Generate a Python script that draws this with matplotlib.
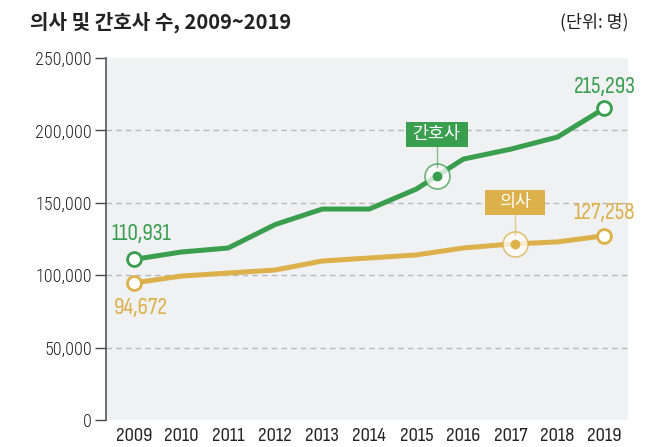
import matplotlib
matplotlib.use("Agg")
import matplotlib.pyplot as plt
from matplotlib.patches import Rectangle
from matplotlib.transforms import IdentityTransform

years = [2009, 2010, 2011, 2012, 2013, 2014, 2015, 2016, 2017, 2018, 2019]
nurses = [110931, 116000, 118800, 135000, 145700, 145700, 159500, 180200, 187000, 195400, 215293]
doctors = [94672, 99400, 101500, 103600, 109800, 111900, 114000, 118800, 121500, 123000, 127258]
yticks = [0, 50000, 100000, 150000, 200000, 250000]
title = "의사 및 간호사 수, 2009~2019"
unit = "(단위: 명)"
nurse_label = "간호사"
doctor_label = "의사"

NUM = "Sofia Sans Condensed"
YT = "Roboto Condensed"
kr = ["Noto Sans CJK KR", "DejaVu Sans"]

GREEN = "#3a9e4f"
YELLOW = "#dcb04a"
BG = "#f0f1f3"
DPI = 100

fig = plt.figure(figsize=(6.68, 4.47), dpi=DPI)
ax = fig.add_axes([106/668, 27/447, 522/668, 362/447])
ax.set_facecolor(BG)
ax.set_xlim(2008.4, 2019.5)
ax.set_ylim(0, 250000)

for y in yticks[1:-1]:
    ax.axhline(y, color="#b9b9b9", lw=1, ls=(0, (4, 3)), zorder=1)

ax.plot(years, nurses, color=GREEN, lw=3.6, zorder=3, solid_capstyle="round", solid_joinstyle="round")
ax.plot(years, doctors, color=YELLOW, lw=3.6, zorder=3, solid_capstyle="round", solid_joinstyle="round")
for ser, c in ((nurses, GREEN), (doctors, YELLOW)):
    ax.plot([years[0], years[-1]], [ser[0], ser[-1]], ls="none", marker="o", ms=10,
            mfc="white", mec=c, mew=2, zorder=4)

lab = dict(fontsize=17, family=NUM, fontweight="medium", ha="center")
ax.annotate(f"{nurses[0]:,}", (years[0], nurses[0]), xytext=(5, 11), textcoords="offset points",
            color=GREEN, va="bottom", **lab)
ax.annotate(f"{doctors[0]:,}", (years[0], doctors[0]), xytext=(5, -10), textcoords="offset points",
            color=YELLOW, va="top", **lab)
ax.annotate(f"{nurses[-1]:,}", (years[-1], nurses[-1]), xytext=(0, 8), textcoords="offset points",
            color=GREEN, va="bottom", **lab)
ax.annotate(f"{doctors[-1]:,}", (years[-1], doctors[-1]), xytext=(0, 9), textcoords="offset points",
            color=YELLOW, va="bottom", **lab)

fig.canvas.draw()

def callout(x, y, ylab, text, c, wpx, hpx):
    ax.plot([x], [y], marker="o", ms=18, mfc=(1, 1, 1, 0.5), mec=c, mew=1.2, alpha=0.75, zorder=5,
            ls="none")
    ax.plot([x], [y], marker="o", ms=6, color=c, zorder=6, ls="none")
    ax.plot([x, x], [y + 6000, ylab], color=c, lw=1, alpha=0.6, zorder=5)
    cx, cy = ax.transData.transform((x, ylab))
    ax.add_patch(Rectangle((cx - wpx/2, cy - hpx/2), wpx, hpx, fc=c, ec="none",
                           transform=IdentityTransform(), zorder=7, clip_on=False))
    ax.text(x, ylab, text, color="white", fontsize=12.5, family=kr, ha="center", va="center", zorder=8)

callout(2015.43, 168400, 197500, nurse_label, GREEN, 62, 25)
callout(2017.1, 121500, 150500, doctor_label, YELLOW, 60, 25)

ax.set_yticks(yticks)
ax.set_yticklabels([f"{v:,}" for v in yticks], family=YT, fontweight="light", fontsize=13, color="#222222")
ax.set_xticks(years)
ax.set_xticklabels([str(y) for y in years], family=NUM, fontsize=15, color="#222222")
ax.tick_params(axis="y", length=8, width=1, color="#444444", pad=2)
ax.tick_params(axis="x", length=0, pad=5)
for s in ("top", "right", "bottom"):
    ax.spines[s].set_visible(False)
ax.spines["left"].set_color("#555555")
ax.spines["left"].set_linewidth(1.2)

fig.text(30/668, 1 - 22/447, title, fontsize=14.5, fontweight="bold", family=kr, color="#222222",
         va="center", ha="left")
fig.text(628/668, 1 - 22/447, unit, fontsize=12.5, family=kr, color="#222222", va="center", ha="right")

fig.savefig("out.png", dpi=DPI)
